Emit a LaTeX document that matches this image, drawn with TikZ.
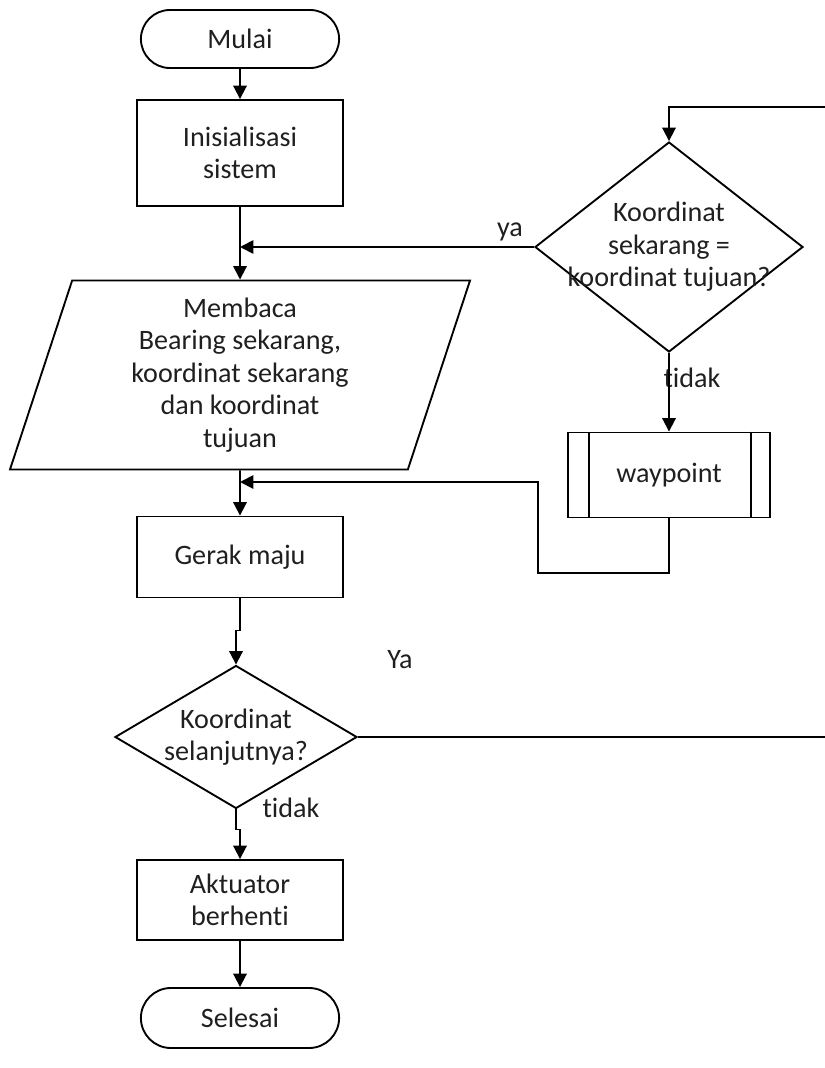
\documentclass[tikz,border=0pt]{standalone}
\usepackage{fontspec}
\setmainfont{Carlito}[Ligatures=NoCommon]
\usetikzlibrary{positioning,arrows.meta,shapes.geometric,shapes.misc}

\begin{document}
\begin{tikzpicture}[x=0.03cm, y=-0.03cm,
    every node/.style={font=\fontsize{24}{27.7}\selectfont, text=black!88},
    b/.style={draw, line width=1.6pt, align=center, minimum width=6.18cm},
    term/.style={b, rounded rectangle, minimum height=1.74cm},
    dec/.style={draw, line width=1.6pt, diamond, inner sep=0pt},
    arr/.style={-{Triangle[length=0.4cm, width=0.4cm]}, line width=1.6pt}]
  \useasboundingbox (0,0) rectangle (825,1068);
  \node[term] (mulai) at (240,39) {Mulai};
  \node[b, minimum height=3.18cm] (ini) at (240,153) {Inisialisasi\\sistem};
  \node[b, trapezium, trapezium left angle=69, trapezium right angle=111, trapezium stretches body,
        minimum width=13.8cm, minimum height=5.67cm] (baca) at (240,375)
        {Membaca\\Bearing sekarang,\\koordinat sekarang\\dan koordinat\\tujuan};
  \node[b, minimum height=2.43cm] (maju) at (240,557) {Gerak maju};
  \node[dec, minimum width=7.26cm, minimum height=4.29cm] (d2) at (236,737) {};
  \node[align=center] (t2) at (d2) {Koordinat\\selanjutnya?};
  \node[b, minimum height=2.4cm] (akt) at (240,900) {Aktuator\\berhenti};
  \node[term, minimum height=1.8cm] (selesai) at (240,1018) {Selesai};
  \node[dec, minimum width=8.04cm, minimum height=6.3cm] (d1) at (669,247) {};
  \node[align=center] (t1) at (d1) {Koordinat\\sekarang =\\koordinat tujuan?};
  \node[b, minimum width=6.06cm, minimum height=2.55cm] (wp) at (669,475) {waypoint};
  \draw[line width=1.6pt] ([xshift=0.66cm]wp.north west) -- ([xshift=0.66cm]wp.south west);
  \draw[line width=1.6pt] ([xshift=-0.6cm]wp.north east) -- ([xshift=-0.6cm]wp.south east);
  \node (lya) at (510,232) {ya};
  \node (ltdk1) at (692,378) {tidak};
  \node (lYa) at (400,660) {Ya};
  \node (ltdk2) at (291,808) {tidak};
  \coordinate (mg) at (240,482);
  \coordinate (bk) at (538,573);
  \coordinate (re) at (826,737);
  \coordinate (rt) at (826,107);
  \draw[arr] (mulai) -- (ini); \draw[arr] (ini) -- (baca); \draw[arr] (baca) -- (maju);
  \draw[arr] (maju.south) -- ++(0,32) -| (d2.north);
  \draw[arr] (d2.south) -- ++(0,20) -| (akt.north);
  \draw[arr] (akt) -- (selesai);
  \draw[arr] (d1.west) -- (d1.west -| ini.south);
  \draw[arr] (d1) -- (wp);
  \draw[arr] (wp.south) |- (bk) |- (mg);
  \draw[arr] (d2.east) -- (re) -- (rt) -| (d1.north);
\end{tikzpicture}
\end{document}
